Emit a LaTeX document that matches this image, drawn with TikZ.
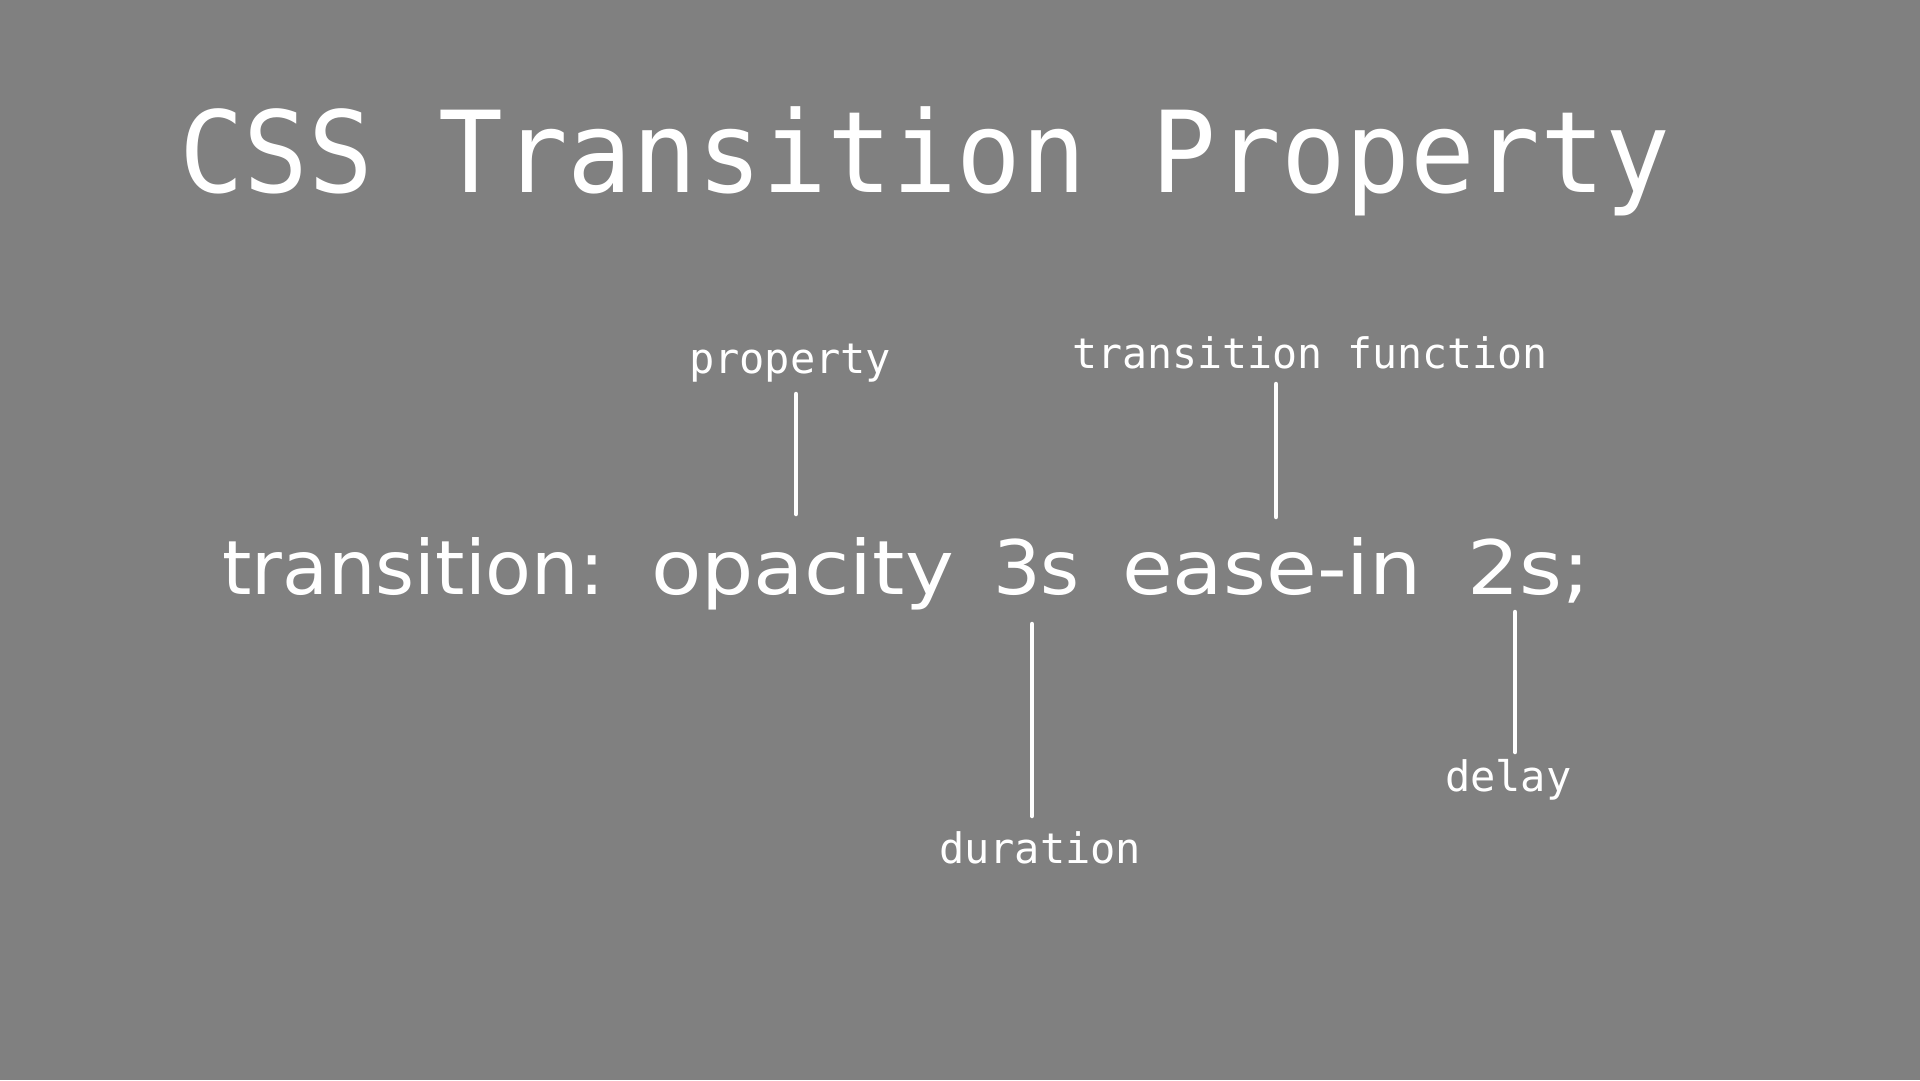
\documentclass[tikz,border=0pt]{standalone}
\usepackage{fontspec}
\setmainfont{DejaVu Sans}
\newfontfamily\monofont{DejaVu Sans Mono}
\definecolor{bggray}{RGB}{128,128,128}
\newcommand{\widen}[1]{\scalebox{1.1}[1]{#1}}
\begin{document}
\begin{tikzpicture}[x=1pt,y=-1pt,
  every node/.style={inner sep=0pt,outer sep=0pt,text=white},
  titletext/.style={anchor=base west,font=\monofont\fontsize{113}{123}\selectfont},
  codeword/.style={anchor=base west,font=\fontsize{75}{85}\selectfont},
  labeltext/.style={anchor=base west,font=\monofont\fontsize{42}{50}\selectfont},
  tick/.style={draw=white,line width=4.5pt,line cap=round}]
  % canvas
  \fill[bggray] (0,0) rectangle (1920,1080);
  \useasboundingbox (0,0) rectangle (1920,1080);

  % heading
  \node[titletext] (title) at (179,192) {\scalebox{0.953}[1]{CSS Transition Property}};

  % the declaration, one node per token
  \node[codeword] (decl) at (222,594) {transition:};
  \node[codeword] (prop) at (651,594) {\widen{opacity}};
  \node[codeword] (dur)  at (993,594) {3s};
  \node[codeword] (func) at (1122,594) {\widen{ease-in}};
  \node[codeword] (dly)  at (1467,594) {\widen{2s;}};

  % annotations
  \node[labeltext] (lprop) at (689,373) {property};
  \node[labeltext] (lfunc) at (1072,368) {\scalebox{0.99}[1]{transition function}};
  \node[labeltext] (ldur)  at (939,863) {duration};
  \node[labeltext] (ldly)  at (1445,791) {delay};

  % leader lines
  \coordinate (pTop) at (796,394);  \coordinate (pBot) at (796,514);
  \coordinate (fTop) at (1276,384); \coordinate (fBot) at (1276,517);
  \coordinate (dTop) at (1032,624); \coordinate (dBot) at (1032,816);
  \coordinate (yTop) at (1515,612); \coordinate (yBot) at (1515,752);
  \draw[tick] (pTop) -- (pBot);
  \draw[tick] (fTop) -- (fBot);
  \draw[tick] (dTop) -- (dBot);
  \draw[tick] (yTop) -- (yBot);
\end{tikzpicture}
\end{document}
